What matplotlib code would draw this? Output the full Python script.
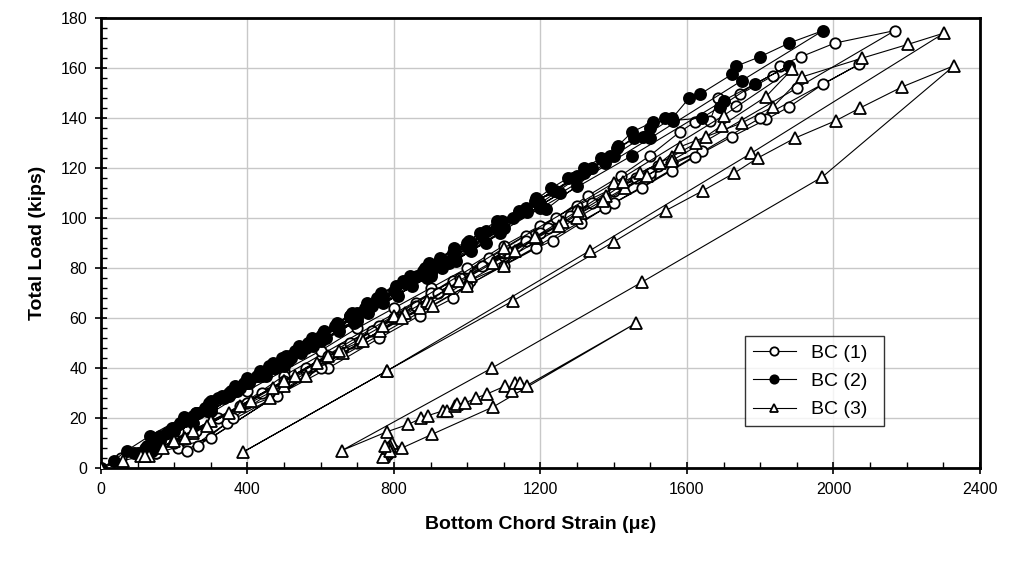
import matplotlib
matplotlib.use("Agg")
import matplotlib.pyplot as plt
from matplotlib.ticker import MultipleLocator

plt.rcParams['font.family'] = ['Liberation Sans', 'DejaVu Sans']

# ---- BC (1): strain (microstrain), load (kips) ----
bc1_strain = [0, 55, 120, 210, 300, 400, 500, 600, 700, 800, 900, 1000, 1100, 1200, 1300, 1400, 1499, 1558, 1640,
              1300, 900, 500, 210,
              234, 343, 480, 621, 760, 870, 962, 1007, 1100, 1189, 1233, 1310, 1376, 1476, 1558, 1622, 1722, 1817, 1879, 1972, 2070,
              1800, 1400, 1000, 600, 265,
              360, 460, 560, 660, 760, 860, 960, 1060, 1160, 1242, 1330, 1420, 1499, 1581, 1622, 1663, 1686, 1735, 1745, 1836, 1854, 1911, 2004, 2168,
              1900, 1500, 1100, 700, 300, 150,
              200, 260, 320, 380, 440, 500, 560, 620, 680, 740, 800, 860, 920, 980, 1040, 1100, 1160, 1220, 1280, 1340, 1400, 1460, 1520,
              1200, 800, 400, 150]
bc1_load = [0, 4, 8, 15, 22, 31, 39, 47, 56, 64, 72, 80, 89, 97, 105, 112, 117, 122, 127,
            103, 70, 37, 8,
            7, 18, 29, 40, 52, 61, 68, 75, 81, 88, 91, 98, 104, 112, 119, 124.5, 132.5, 139.5, 144.5, 153.6, 161.5,
            140, 106, 73, 40, 9,
            20, 30, 39, 48, 57, 66, 75, 84, 93, 100, 109, 117, 125, 134.5, 138.5, 139, 148, 145, 149.5, 157, 161, 164.5, 170, 175,
            152, 118, 85, 50, 12, 6,
            10, 15, 20, 25, 30, 35, 40, 45, 50, 55, 60, 65, 70, 76, 81, 86, 91, 96, 101, 106, 111, 116, 121,
            94, 60, 26, 6]

# ---- BC (2) ----
bc2_strain = [0, 35, 70, 134, 227, 300, 393, 460, 516, 607, 680, 753, 824, 896, 966, 1035, 1080, 1126, 1189, 1253,
              1100, 900, 700, 500, 300, 150, 100,
              180, 260, 350, 430, 520, 600, 690, 770, 862, 940, 1010, 1080, 1162, 1215, 1300, 1376, 1412, 1451, 1508, 1562, 1640, 1690, 1785, 1879,
              1700, 1450, 1200, 950, 700, 450, 250, 120,
              200, 290, 380, 470, 560, 650, 740, 830, 920, 1000, 1080, 1160, 1240, 1320, 1400, 1480, 1560, 1606, 1635, 1724, 1735, 1799, 1879, 1972,
              1750, 1500, 1200, 900, 600, 350, 150, 90,
              125, 160, 195, 230, 265, 300, 335, 370, 405, 440, 475, 510, 545, 580, 615, 650, 690, 730, 770, 810, 850, 890, 930, 970, 1010, 1050, 1090,
              900, 600, 300, 110,
              145, 180, 215, 250, 285, 320, 355, 390, 425, 460, 495, 530, 565, 600, 640, 680, 720, 760, 800, 840, 880, 920, 960, 1000, 1040, 1090,
              1140, 1190, 1240, 1290, 1340, 1390,
              1200, 900, 600, 300, 130,
              160, 190, 225, 260, 295, 330, 365, 400, 435, 470, 505, 540, 575, 610, 645, 685, 725, 765, 805, 845, 885, 925, 965, 1005, 1050,
              1095, 1140, 1185, 1230, 1275, 1320, 1365, 1410, 1455, 1500, 1540,
              1300, 1000, 700, 400, 140]
bc2_load = [0, 3, 7, 13, 20.5, 27, 34, 40, 45, 54, 61, 68, 75, 82, 87, 94, 99, 100, 108, 110,
            96, 78, 60, 41, 23, 9, 6,
            14, 22, 30, 37, 44, 52, 60, 68, 77, 83, 90, 96, 102.5, 103.5, 113, 122, 129, 134.5, 138.5, 139, 140, 144.5, 153.6, 161,
            147, 125, 104, 82, 59, 37, 18, 7,
            15, 23, 32, 40, 48, 57, 65, 74, 82, 89, 97, 104, 111, 118, 125, 132.5, 140, 148, 149.5, 157.6, 160.8, 164.5, 170, 175,
            155, 132, 105, 79, 52, 29, 10, 6,
            9, 13, 16, 19, 22, 25, 28, 31, 34, 37, 40, 43, 46, 49, 52, 55, 58, 62, 66, 69, 73, 76, 80, 83, 87, 90, 94,
            77, 51, 24, 6,
            10, 14, 18, 21, 24, 28, 31, 34, 37, 41, 44, 47, 50, 53, 57, 61, 64, 68, 71, 75, 79, 82, 86, 90, 93, 97,
            102, 107, 111, 116, 120, 125,
            106, 79, 52, 25, 7,
            11, 15, 19, 22, 26, 29, 33, 36, 39, 42, 45, 49, 52, 55, 58, 62, 66, 70, 73, 77, 80, 84, 88, 91, 95,
            99, 103, 107, 112, 116, 120, 124, 128, 132, 136, 140,
            117, 89, 62, 34, 7]

# ---- BC (3) ----
bc3_strain = [0, 60, 120, 200, 300, 461, 560, 662, 762, 870, 978, 1117, 1262, 1380, 1471, 1558, 1626, 1695, 1815, 1887,
              1700, 1400, 1100, 800, 500, 250, 130,
              110, 170, 230, 290, 350, 410, 470, 530, 590, 650, 710, 770, 830, 890, 950, 1010, 1070, 1130, 1190,
              1250, 1310, 1370, 1430, 1490, 1560, 1300, 900, 500, 120,
              250, 380, 500, 620, 716, 821, 907, 1000, 1100, 1185, 1303, 1426, 1526, 1581, 1651, 1749, 1835, 1915, 2079, 2204, 2302,
              1776, 1335, 782, 389,
              782, 1126, 1400, 1542, 1644, 1729, 1793, 1895, 2007, 2072, 2188, 2330,
              1970, 1476, 1067, 657,
              780, 839, 875, 893, 935, 944, 966, 972, 994, 1023, 1053, 1103, 1121, 1130, 1145, 1162, 1461,
              1071, 905, 821, 795, 790, 786, 782, 780, 778, 775, 772, 770, 785, 788, 776]
bc3_load = [0, 3, 5, 11, 19, 28, 37, 46, 55, 64, 75, 86.5, 98.5, 109, 118, 124.5, 130, 137, 148.5, 159.5,
            141, 114, 88, 61, 35, 14, 5,
            5, 8, 12, 17, 22, 27, 32, 37, 42, 47, 52, 57, 62, 67, 72, 77, 82, 87, 92,
            97, 102, 107, 112, 117, 123, 100, 66, 33, 5,
            15, 25, 35, 45, 51, 60, 65, 73, 81, 92.5, 103, 114.5, 122, 128.5, 132.5, 138, 144.5, 156.5, 164, 169.5, 174,
            126, 87, 39, 6.5,
            39, 67, 90.5, 103, 111, 118, 124, 132, 139, 144, 152.5, 161,
            116.5, 74.3, 40, 7,
            14.5, 17.5, 20, 21, 23, 23, 25, 25.5, 26, 28, 29.6, 32.8, 31, 34, 34, 33, 58,
            24.5, 13.6, 8, 10, 9, 8, 7, 6.5, 6, 5.5, 5, 4.5, 8, 7, 9]

fig = plt.figure(figsize=(10.11, 5.64), dpi=100)
ax = fig.add_axes([0.0999, 0.170, 0.8694, 0.798])

lw = 0.8
ax.plot(bc1_strain, bc1_load, '-', color='black', lw=lw, marker='o', ms=7.5,
        mfc='white', mec='black', mew=1.3, label='BC (1)', zorder=3)
ax.plot(bc2_strain, bc2_load, '-', color='black', lw=lw, marker='o', ms=8,
        mfc='black', mec='black', mew=1.3, label='BC (2)', zorder=3)
ax.plot(bc3_strain, bc3_load, '-', color='black', lw=lw, marker='^', ms=8.5,
        mfc='white', mec='black', mew=1.3, label='BC (3)', zorder=3)

ax.set_xlim(0, 2400)
ax.set_ylim(0, 180)
ax.xaxis.set_major_locator(MultipleLocator(400))
ax.xaxis.set_minor_locator(MultipleLocator(100))
ax.yaxis.set_major_locator(MultipleLocator(20))
ax.yaxis.set_minor_locator(MultipleLocator(4))
ax.grid(True, which='major', color='#c8c8c8', lw=1.0, zorder=0)
ax.set_axisbelow(True)
ax.tick_params(which='major', direction='inout', length=8, width=1.2, labelsize=11.5, pad=6)
ax.tick_params(which='minor', direction='in', length=4, width=1.0)
for s in ax.spines.values():
    s.set_linewidth(2.0)

ax.set_xlabel('Bottom Chord Strain (\u03bc\u03b5)', fontsize=14, fontweight='bold', labelpad=14)
ax.set_ylabel('Total Load (kips)', fontsize=14, fontweight='bold', labelpad=10)

leg = ax.legend(loc='lower left', bbox_to_anchor=(0.733, 0.093, 0.158, 0.254), mode='expand',
                fontsize=14, frameon=True, fancybox=False, edgecolor='black',
                handlelength=2.2, borderaxespad=0, labelspacing=0.55)
leg.get_frame().set_linewidth(1.0)
for h in leg.legend_handles:
    h.set_markersize(6)

fig.savefig('out.png', dpi=100)
